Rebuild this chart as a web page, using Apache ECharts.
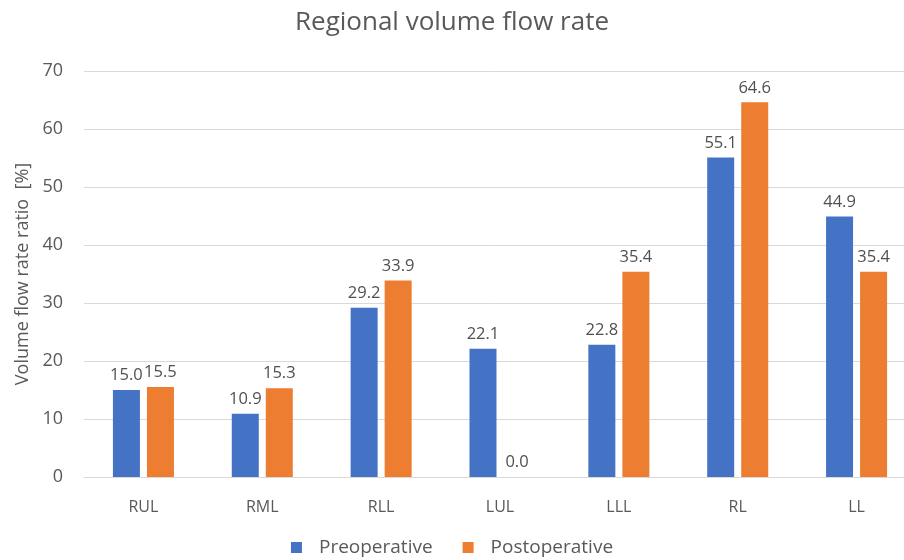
<!DOCTYPE html>
<html>
<head>
<meta charset="utf-8">
<script src="https://cdn.jsdelivr.net/npm/echarts@6/dist/echarts.min.js"></script>
<style>
  html, body { margin: 0; padding: 0; background: #fff; }
  #chart { width: 904px; height: 560px; }
</style>
</head>
<body>
<div id="chart"></div>
<script>
// 数据
const categories = ['RUL', 'RML', 'RLL', 'LUL', 'LLL', 'RL', 'LL'];
const preoperative = [15.0, 10.9, 29.2, 22.1, 22.8, 55.1, 44.9];
const postoperative = [15.5, 15.3, 33.9, 0.0, 35.4, 64.6, 35.4];
const yTicks = [0, 10, 20, 30, 40, 50, 60, 70];

const fontFamily = 'Open Sans, Noto Sans, sans-serif';
const textColor = '#595959';

const chart = echarts.init(document.getElementById('chart'));

const labelStyle = {
    show: true,
    position: 'top',
    distance: 6,
    color: '#505050',
    fontSize: 16.5,
    fontFamily: fontFamily,
    formatter: p => p.value.toFixed(1)
};

const option = {
    backgroundColor: '#fff',
    animation: false,
    title: {
        text: 'Regional volume flow rate',
        left: 'center',
        top: 5,
        textStyle: {
            color: textColor,
            fontSize: 26,
            fontWeight: 'normal',
            fontFamily: fontFamily
        }
    },
    legend: {
        bottom: -2,
        left: 'center',
        itemWidth: 11,
        itemHeight: 11,
        itemGap: 30,
        icon: 'rect',
        textStyle: {
            color: textColor,
            fontSize: 19,
            fontFamily: fontFamily,
            padding: [0, 0, 0, 12]
        },
        data: ['Preoperative', 'Postoperative']
    },
    // 绘图区右侧超出画面（参考图被裁切）
    grid: {
        left: 84,
        width: 832,
        top: 71,
        bottom: 83,
        outerBoundsMode: 'none'
    },
    xAxis: {
        type: 'category',
        data: categories,
        axisTick: { show: false },
        axisLine: { lineStyle: { color: '#d9d9d9', width: 1 } },
        axisLabel: {
            color: textColor,
            fontSize: 16,
            fontFamily: fontFamily,
            margin: 22
        }
    },
    yAxis: {
        type: 'value',
        min: yTicks[0],
        max: yTicks[yTicks.length - 1],
        interval: 10,
        name: 'Volume flow rate ratio  [%]',
        nameLocation: 'middle',
        nameGap: 52,
        nameTextStyle: {
            color: textColor,
            fontSize: 18,
            fontFamily: fontFamily
        },
        axisLine: { show: false },
        axisTick: { show: false },
        axisLabel: {
            color: textColor,
            fontSize: 18,
            fontFamily: fontFamily,
            margin: 21
        },
        splitLine: { lineStyle: { color: '#d9d9d9', width: 1 } }
    },
    series: [
        {
            name: 'Preoperative',
            type: 'bar',
            data: preoperative,
            barWidth: 27,
            barGap: '26%',
            itemStyle: { color: '#4472c4' },
            label: labelStyle
        },
        {
            name: 'Postoperative',
            type: 'bar',
            data: postoperative,
            barWidth: 27,
            itemStyle: { color: '#ed7d31' },
            label: labelStyle
        }
    ]
};

chart.setOption(option);
</script>
</body>
</html>
